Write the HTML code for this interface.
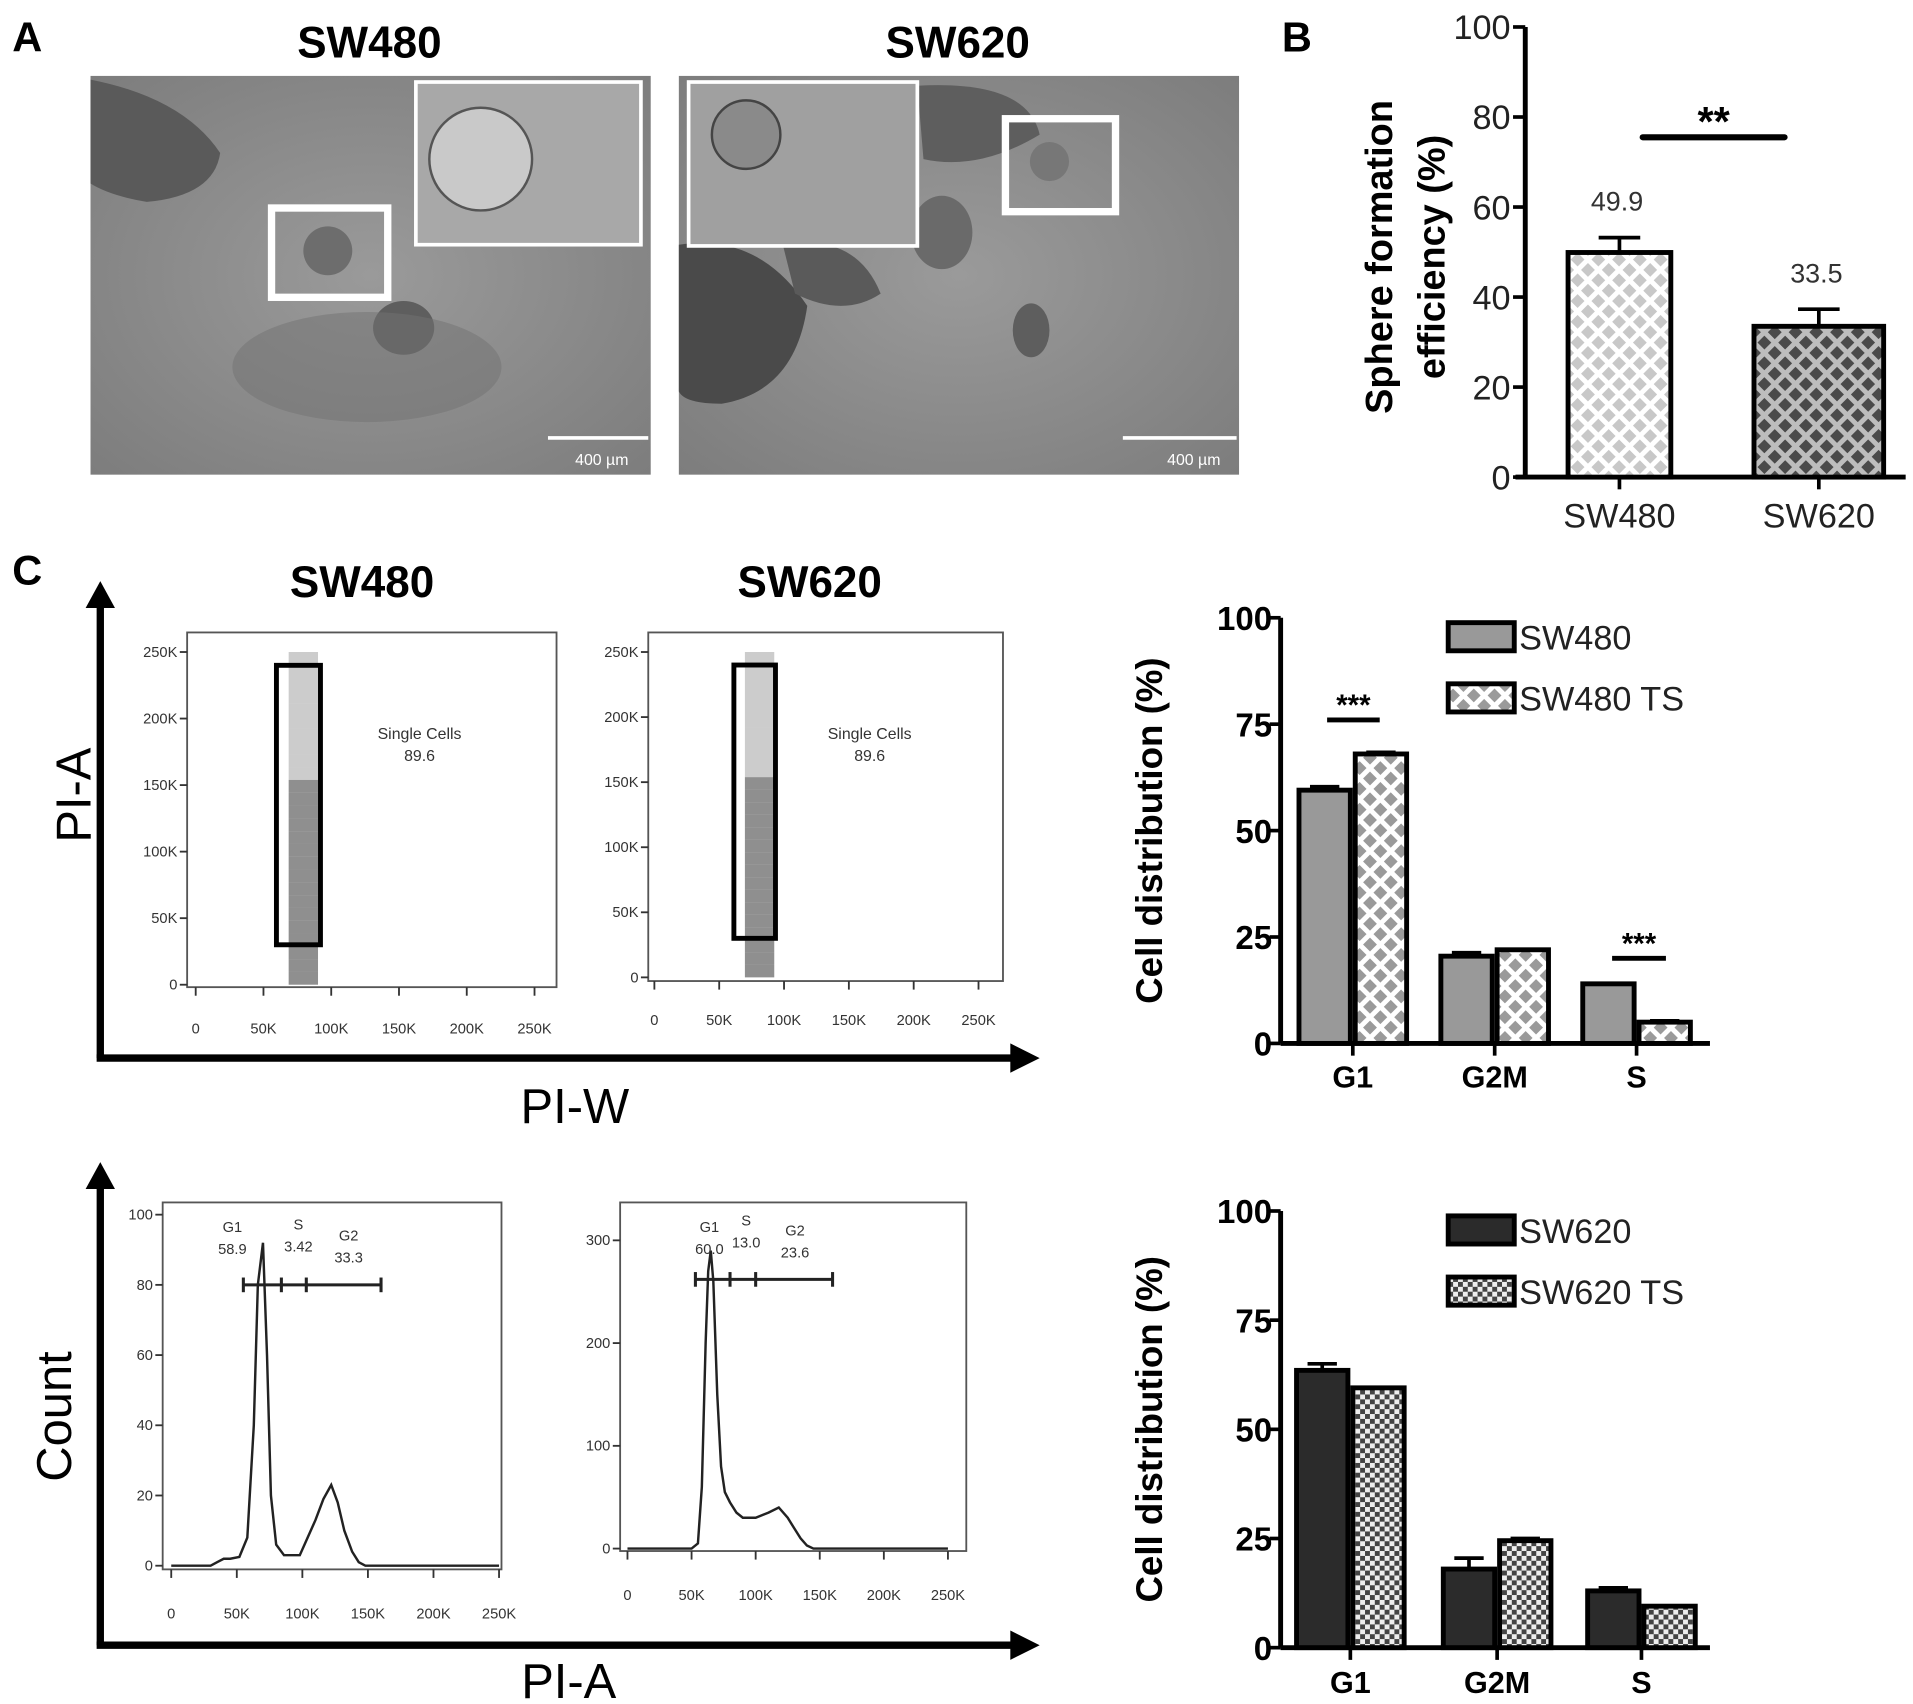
<!DOCTYPE html>
<html><head><meta charset="utf-8"><style>
html,body{margin:0;padding:0;background:#fff}
svg{display:block}
text{font-family:"Liberation Sans",Arial,sans-serif}
</style></head><body>
<svg id="fig" width="1913" height="1704" viewBox="0 0 1564 1393" xmlns="http://www.w3.org/2000/svg">
<defs>
<pattern id="pLight" width="12" height="12" patternUnits="userSpaceOnUse" patternTransform="rotate(45)"><rect width="12" height="12" fill="#fff"/><rect x="2" y="2" width="8" height="8" fill="#c8c8c8"/></pattern>
<pattern id="pDark" width="12" height="12" patternUnits="userSpaceOnUse" patternTransform="rotate(45)"><rect width="12" height="12" fill="#bdbdbd"/><rect x="2" y="2" width="8" height="8" fill="#4a4a4a"/></pattern>
<pattern id="pGrey" width="12" height="12" patternUnits="userSpaceOnUse" patternTransform="rotate(45)"><rect width="12" height="12" fill="#fff"/><rect x="2" y="2" width="8" height="8" fill="#9a9a9a"/></pattern>
<pattern id="pCheck" width="8" height="8" patternUnits="userSpaceOnUse"><rect width="8" height="8" fill="#eee"/><rect width="4" height="4" fill="#444"/><rect x="4" y="4" width="4" height="4" fill="#444"/></pattern>
<radialGradient id="micro1" cx="50%" cy="50%" r="70%"><stop offset="0" stop-color="#9a9a9a"/><stop offset="1" stop-color="#7d7d7d"/></radialGradient>
</defs>

<text x="10" y="42" font-size="34" font-weight="bold">A</text>
<text x="1048" y="42" font-size="34" font-weight="bold">B</text>
<text x="10" y="478" font-size="34" font-weight="bold">C</text>

<g>
<text x="302" y="47" font-size="36" font-weight="bold" text-anchor="middle">SW480</text>
<rect x="74" y="62" width="458" height="326" fill="url(#micro1)"/>
<path d="M74 65 Q150 80 180 125 Q175 160 120 165 Q90 160 74 150Z" fill="#5a5a5a"/>
<ellipse cx="330" cy="268" rx="25" ry="22" fill="#5e5e5e"/>
<ellipse cx="300" cy="300" rx="110" ry="45" fill="#727272" opacity="0.5"/>
<rect x="340" y="67" width="184" height="133" fill="#a8a8a8" stroke="#fff" stroke-width="3"/>
<circle cx="393" cy="130" r="42" fill="#c9c9c9" stroke="#555" stroke-width="2"/>
<rect x="222" y="170" width="95" height="73" fill="none" stroke="#fff" stroke-width="6"/>
<circle cx="268" cy="205" r="20" fill="#6d6d6d"/>
<line x1="448" y1="358" x2="530" y2="358" stroke="#fff" stroke-width="3"/>
<text x="492" y="380" font-size="13" fill="#fff" text-anchor="middle">400 µm</text>
</g>
<g>
<text x="783" y="47" font-size="36" font-weight="bold" text-anchor="middle">SW620</text>
<rect x="555" y="62" width="458" height="326" fill="url(#micro1)"/>
<path d="M555 200 Q620 190 660 250 Q650 320 590 330 Q560 330 555 320Z" fill="#4a4a4a"/>
<path d="M640 200 Q700 190 720 240 Q690 260 650 240Z" fill="#5a5a5a"/>
<path d="M750 70 Q840 65 850 110 Q800 140 755 130Z" fill="#5e5e5e"/>
<ellipse cx="770" cy="190" rx="25" ry="30" fill="#6a6a6a"/>
<ellipse cx="843" cy="270" rx="15" ry="22" fill="#5e5e5e"/>
<rect x="563" y="67" width="187" height="134" fill="#a0a0a0" stroke="#fff" stroke-width="3"/>
<circle cx="610" cy="110" r="28" fill="#8a8a8a" stroke="#444" stroke-width="2"/>
<rect x="822" y="97" width="90" height="76" fill="none" stroke="#fff" stroke-width="6"/>
<circle cx="858" cy="132" r="16" fill="#777"/>
<line x1="918" y1="358" x2="1011" y2="358" stroke="#fff" stroke-width="3"/>
<text x="976" y="380" font-size="13" fill="#fff" text-anchor="middle">400 µm</text>
</g>

<g id="chartB"></g>
<g id="chartC1"></g>
<g id="chartC2"></g>
<g id="flow"></g>
</svg>
<script>
const sphereCats = ["SW480","SW620"];
const sphereVals = [49.9, 33.5];
const sphereErr = [3.3, 3.8];
const sphereTicks = [0,20,40,60,80,100];

const phaseCats = ["G1","G2M","S"];
const sw480Vals = [59.5, 20.5, 14];
const sw480TsVals = [68, 22, 5];
const sw480Err = [0.8, 0.8, 0];
const sw480TsErr = [0.4, 0, 0.3];
const sw620Vals = [63.5, 18, 13];
const sw620TsVals = [59.5, 24.5, 9.5];
const sw620Err = [1.5, 2.5, 0.7];
const sw620TsErr = [0, 0.5, 0];
const distTicks = [0,25,50,75,100];

const flowXTicks = [0,50,100,150,200,250];
const flowXLabels = ["0","50K","100K","150K","200K","250K"];
const flowYTicks = [0,50,100,150,200,250];
const flowYLabels = ["0","50K","100K","150K","200K","250K"];
const hist1X = [0,30,35,40,45,52,58,63,66,70,73,76,80,86,92,98,104,110,116,122,127,132,138,143,148,155,180,250];
const hist1Y = [0,0,1,2,2,2.5,8,40,80,92,60,20,6,3,3,3,8,13,19,23,18,10,4,1,0,0,0,0];
const hist1Ticks = [0,20,40,60,80,100];
const hist2X = [0,50,55,58,61,63,65,67,70,73,76,80,85,90,100,110,118,125,130,135,140,145,250];
const hist2Y = [0,0,5,60,200,270,290,260,150,80,55,45,35,30,30,35,40,30,20,10,3,0,0];
const hist2Ticks = [0,100,200,300];

const NS="http://www.w3.org/2000/svg";
function mk(parent, tag, attrs, txt){const e=document.createElementNS(NS,tag);for(const k in attrs)e.setAttribute(k,attrs[k]);if(txt!==undefined)e.textContent=txt;parent.appendChild(e);return e;}

(function(){
const g=document.getElementById('chartB');
const x0=1247, xEnd=1558, yBase=390, yTop=22;
const y=v=>yBase-(v/100)*(yBase-yTop);
const barX=[1282,1434], barW=[84,106], fills=["url(#pLight)","url(#pDark)"];
const yl=mk(g,'line',{x1:x0,y1:yTop,x2:x0,y2:yBase,stroke:'#000','stroke-width':4});


const xl=mk(g,'line',{x1:x0-8,y1:yBase,x2:xEnd,y2:yBase,stroke:'#000','stroke-width':4});


sphereTicks.forEach(t=>{
  mk(g,'line',{x1:x0-10,y1:y(t),x2:x0,y2:y(t),stroke:'#000','stroke-width':3});
  const tl=mk(g,'text',{x:x0-12,y:y(t)+10,'font-size':28,'text-anchor':'end',fill:'#222'},t);
  
  
});
sphereCats.forEach((c,i)=>{
  const cx=barX[i]+barW[i]/2;
  const b=mk(g,'rect',{x:barX[i],y:y(sphereVals[i]),width:barW[i],height:yBase-y(sphereVals[i]),fill:fills[i],stroke:'#000','stroke-width':4});
  
  
  mk(g,'line',{x1:cx,y1:y(sphereVals[i]),x2:cx,y2:y(sphereVals[i]+sphereErr[i]),stroke:'#000','stroke-width':3});
  mk(g,'line',{x1:cx-17,y1:y(sphereVals[i]+sphereErr[i]),x2:cx+17,y2:y(sphereVals[i]+sphereErr[i]),stroke:'#000','stroke-width':3});
  mk(g,'line',{x1:cx,y1:yBase,x2:cx,y2:yBase+10,stroke:'#000','stroke-width':3});
  const vl=mk(g,'text',{x:cx-2,y:y(sphereVals[i]+sphereErr[i])-22,'font-size':22,'text-anchor':'middle',fill:'#333'},sphereVals[i].toFixed(1));
  
  
  const cl=mk(g,'text',{x:cx,y:431,'font-size':28,'text-anchor':'middle',fill:'#222'},c);
  
  
});
mk(g,'line',{x1:1343,y1:y(75.5),x2:1459,y2:y(75.5),stroke:'#000','stroke-width':5,'stroke-linecap':'round'});
const s=mk(g,'text',{x:1401,y:111,'font-size':34,'font-weight':'bold','text-anchor':'middle'},'**');


const t=mk(g,'text',{transform:'translate(1138,210) rotate(-90)','font-size':31,'font-weight':'bold','text-anchor':'middle'},'Sphere formation');


const t2=mk(g,'text',{transform:'translate(1181,210) rotate(-90)','font-size':31,'font-weight':'bold','text-anchor':'middle'},'efficiency (%)');


})();

function distChart(id, yTop, yBase, a, b, ea, eb, fa, fb, names, barXs, sig, catY){
const g=document.getElementById(id);
const x0=1047, xEnd=1398;
const y=v=>yBase-(v/100)*(yBase-yTop);
const yl=mk(g,'line',{x1:x0,y1:yTop,x2:x0,y2:yBase,stroke:'#000','stroke-width':4});


const xl=mk(g,'line',{x1:x0,y1:yBase,x2:xEnd,y2:yBase,stroke:'#000','stroke-width':4});


distTicks.forEach(t=>{
  mk(g,'line',{x1:x0-9,y1:y(t),x2:x0,y2:y(t),stroke:'#000','stroke-width':3});
  const tl=mk(g,'text',{x:x0-7,y:y(t)+10,'font-size':27,'font-weight':'bold','text-anchor':'end'},t);
  
  
});
phaseCats.forEach((c,i)=>{
  const bx=barXs[i], w=42;
  [[a,ea,fa,0],[b,eb,fb,1]].forEach(([vals,errs,fill,k])=>{
    const x=bx+k*(w+4);
    const r=mk(g,'rect',{x:x,y:y(vals[i]),width:w,height:yBase-y(vals[i]),fill:fill,stroke:'#000','stroke-width':4});
    
    
    if(errs[i]>0){const cx=x+w/2;
      mk(g,'line',{x1:cx,y1:y(vals[i]),x2:cx,y2:y(vals[i]+errs[i]),stroke:'#000','stroke-width':3});
      mk(g,'line',{x1:cx-12,y1:y(vals[i]+errs[i]),x2:cx+12,y2:y(vals[i]+errs[i]),stroke:'#000','stroke-width':3});}
  });
  const mid=bx+w+2;
  mk(g,'line',{x1:mid,y1:yBase,x2:mid,y2:yBase+10,stroke:'#000','stroke-width':3});
  const cl=mk(g,'text',{x:mid,y:catY,'font-size':25,'font-weight':'bold','text-anchor':'middle'},c);
  
  
});
sig.forEach(([x1,x2,v])=>{
  mk(g,'line',{x1:x1,y1:y(v),x2:x2,y2:y(v),stroke:'#000','stroke-width':4});
  const s=mk(g,'text',{x:(x1+x2)/2,y:y(v)-4,'font-size':24,'font-weight':'bold','text-anchor':'middle'},'***');
  
  
});
[[fa,names[0]],[fb,names[1]]].forEach(([f,n],k)=>{
  const ly=yTop+4+k*50;
  const lb=mk(g,'rect',{x:1184,y:ly,width:54,height:23,fill:f,stroke:'#000','stroke-width':4});
  
  
  const lt=mk(g,'text',{x:1242,y:ly+22,'font-size':28,fill:'#222'},n);
  
  
});
const t=mk(g,'text',{transform:`translate(950,${(yTop+yBase)/2}) rotate(-90)`,'font-size':30,'font-weight':'bold','text-anchor':'middle'},'Cell distribution (%)');


}
distChart('chartC1',505,853,sw480Vals,sw480TsVals,sw480Err,sw480TsErr,'#999','url(#pGrey)',['SW480','SW480 TS'],[1062,1178,1294],[[1085,1128,76],[1318,1362,20]],889);
distChart('chartC2',990,1347,sw620Vals,sw620TsVals,sw620Err,sw620TsErr,'#2b2b2b','url(#pCheck)',['SW620','SW620 TS'],[1060,1180,1298],[],1384);

(function(){
const g=document.getElementById('flow');
function arrows(yTop,yBot){
  mk(g,'line',{x1:82,y1:yTop+18,x2:82,y2:yBot,stroke:'#000','stroke-width':6});
  mk(g,'polygon',{points:`70,${yTop+22} 82,${yTop} 94,${yTop+22}`,fill:'#000'});
  mk(g,'line',{x1:79,y1:yBot,x2:830,y2:yBot,stroke:'#000','stroke-width':6});
  mk(g,'polygon',{points:`826,${yBot-12} 850,${yBot} 826,${yBot+12}`,fill:'#000'});
}
arrows(475,865); arrows(950,1345);
const a1=mk(g,'text',{transform:'translate(74,650) rotate(-90)','font-size':40,'text-anchor':'middle'},'PI-A');

const a2=mk(g,'text',{x:470,y:918,'font-size':40,'text-anchor':'middle'},'PI-W');

const a3=mk(g,'text',{transform:'translate(58,1158) rotate(-90)','font-size':40,'text-anchor':'middle'},'Count');

const a4=mk(g,'text',{x:465,y:1388,'font-size':40,'text-anchor':'middle'},'PI-A');

const h1=mk(g,'text',{x:296,y:488,'font-size':36,'font-weight':'bold','text-anchor':'middle'},'SW480');

const h2=mk(g,'text',{x:662,y:488,'font-size':36,'font-weight':'bold','text-anchor':'middle'},'SW620');


function frame(bx,by,bw,bh,xs,xe,y0,yMax,yv,yTicksV,yLab,xLabY,name){
  const r=mk(g,'rect',{x:bx,y:by,width:bw,height:bh,fill:'#fff',stroke:'#555','stroke-width':1.5});
  
  const X=v=>xs+(v/250)*(xe-xs);
  const Y=v=>y0-(v/yMax)*(y0-yv);
  flowXTicks.forEach((t,i)=>{
    mk(g,'line',{x1:X(t),y1:by+bh,x2:X(t),y2:by+bh+7,stroke:'#333','stroke-width':1.5});
    const l=mk(g,'text',{x:X(t),y:xLabY,'font-size':12,'text-anchor':'middle',fill:'#333'},flowXLabels[i]);
    
  });
  yTicksV.forEach((t,i)=>{
    mk(g,'line',{x1:bx-6,y1:Y(t),x2:bx,y2:Y(t),stroke:'#333','stroke-width':1.5});
    const l=mk(g,'text',{x:bx-8,y:Y(t)+4,'font-size':12,'text-anchor':'end',fill:'#333'},yLab[i]);
    
  });
  return [X,Y];
}
[[153,517,302,290,160,437,805,533,845,226,262,343],[530,517,290,285,535,800,799,533,838,600,634,711]].forEach((p,k)=>{
  const [X,Y]=frame(p[0],p[1],p[2],p[3],p[4],p[5],p[6],250,p[7],flowYTicks,flowYLabels,p[8],'dot-plot-'+(k?'sw620':'sw480'));
  const cx=(p[9]+p[10])/2+6;
  for(let i=0;i<26;i++){
    const yy=p[7]+i*(p[6]-p[7])/26;
    const dens=i>9?0.55:0.25;
    mk(g,'rect',{x:cx-14,y:yy,width:24,height:(p[6]-p[7])/26,fill:'#333',opacity:dens});
  }
  const gt=mk(g,'rect',{x:p[9],y:Y(240),width:p[10]-p[9],height:Y(30)-Y(240),fill:'none',stroke:'#000','stroke-width':4});
  
  mk(g,'text',{x:p[11],y:604,'font-size':13,'text-anchor':'middle',fill:'#333'},'Single Cells');
  mk(g,'text',{x:p[11],y:622,'font-size':13,'text-anchor':'middle',fill:'#333'},'89.6');
});
function hist(bx,by,bw,bh,xs,xe,y0,yMax,yv,ticks,xs_,ys_,xLabY,gate,labels,name){
  const [X,Y]=frame(bx,by,bw,bh,xs,xe,y0,yMax,yv,ticks,ticks.map(String),xLabY,name);
  const d=xs_.map((v,i)=>(i?'L':'M')+X(v).toFixed(1)+' '+Y(ys_[i]).toFixed(1)).join(' ');
  const pth=mk(g,'path',{d:d,fill:'none',stroke:'#222','stroke-width':2});
  
  const gy=Y(gate[0]);
  mk(g,'line',{x1:X(gate[1]),y1:gy,x2:X(gate[4]),y2:gy,stroke:'#222','stroke-width':2.5});
  [gate[1],gate[2],gate[3],gate[4]].forEach(v=>mk(g,'line',{x1:X(v),y1:gy-6,x2:X(v),y2:gy+6,stroke:'#222','stroke-width':2.5}));
  labels.forEach(l=>{mk(g,'text',{x:l[0],y:l[1],'font-size':12,'text-anchor':'middle',fill:'#333'},l[2]);mk(g,'text',{x:l[0],y:l[1]+18,'font-size':12,'text-anchor':'middle',fill:'#333'},l[3]);});
}
hist(133,983,277,300,140,408,1280,100,993,hist1Ticks,hist1X,hist1Y,1323,[80,55,84,103,160],[[190,1007,'G1','58.9'],[244,1005,'S','3.42'],[285,1014,'G2','33.3']],'histogram-sw480');
hist(507,983,283,285,513,775,1266,300,1014,hist2Ticks,hist2X,hist2Y,1308,[262,53,80,100,160],[[580,1007,'G1','60.0'],[610,1002,'S','13.0'],[650,1010,'G2','23.6']],'histogram-sw620');
})();
</script>
</body></html>
